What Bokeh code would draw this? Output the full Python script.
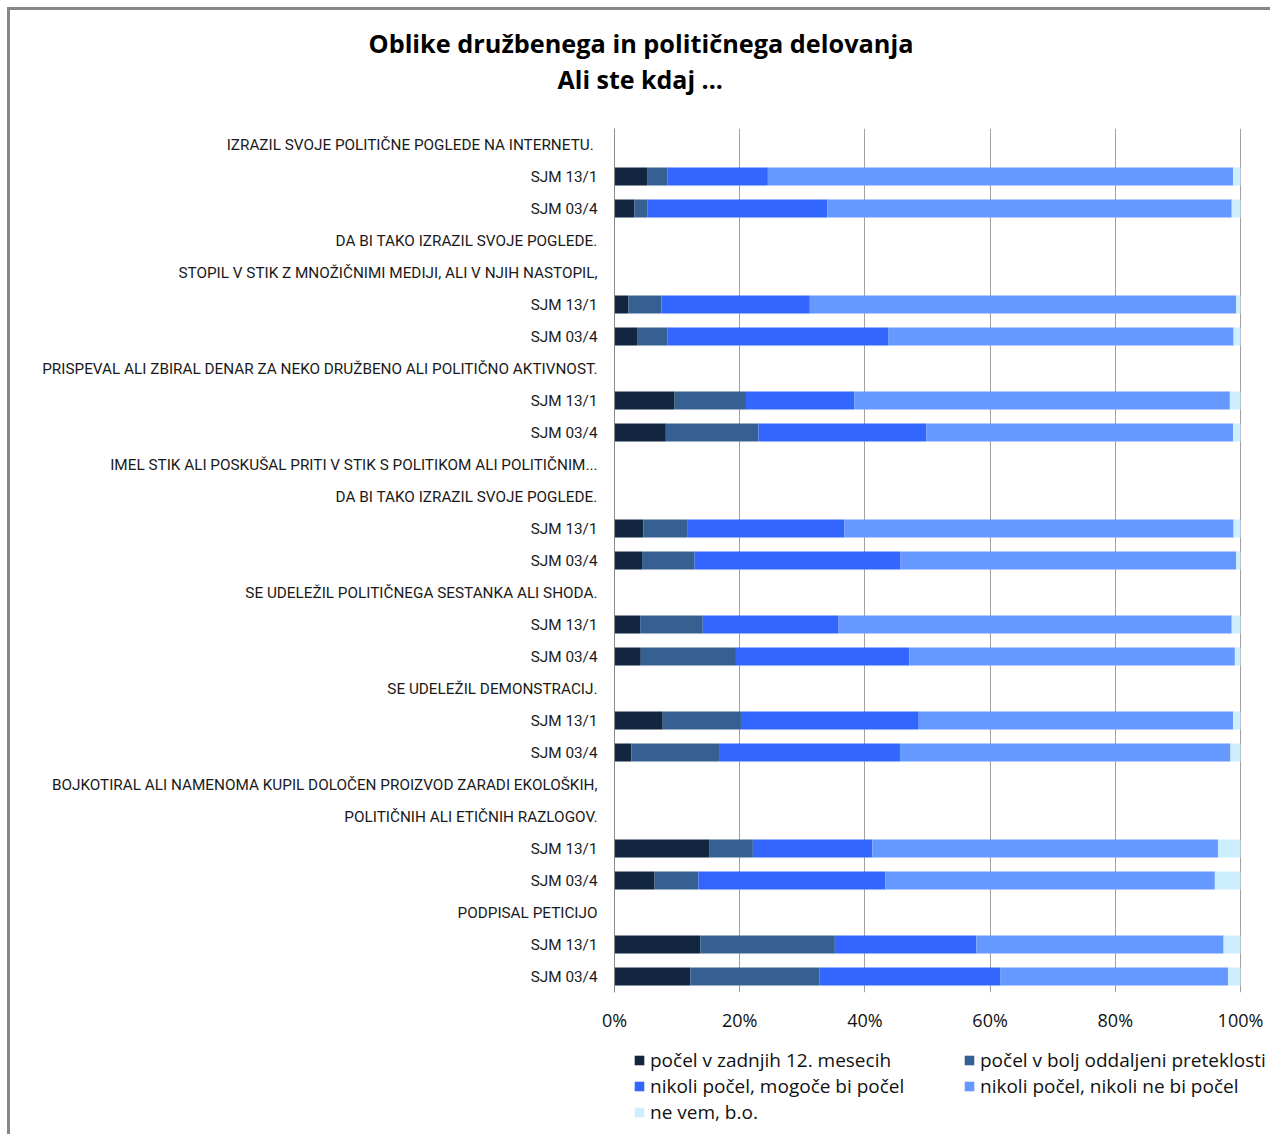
from bokeh.plotting import figure
from bokeh.layouts import column
from bokeh.models import (Range1d, FixedTicker, Legend, LegendItem, Title,
                          ColumnDataSource)
from bokeh.embed import file_html
from bokeh.resources import INLINE

title_lines = ["Oblike družbenega in političnega delovanja", "Ali ste kdaj ..."]

row_labels = [
    "IZRAZIL SVOJE POLITIČNE POGLEDE NA  INTERNETU.",
    "SJM 13/1", "SJM 03/4",
    "DA BI TAKO IZRAZIL SVOJE POGLEDE.",
    "STOPIL V STIK Z MNOŽIČNIMI MEDIJI, ALI V NJIH NASTOPIL,",
    "SJM 13/1", "SJM 03/4",
    "PRISPEVAL ALI ZBIRAL DENAR ZA NEKO DRUŽBENO ALI POLITIČNO AKTIVNOST.",
    "SJM 13/1", "SJM 03/4",
    "IMEL STIK ALI POSKUŠAL PRITI V STIK S POLITIKOM ALI POLITIČNIM...",
    "DA BI TAKO IZRAZIL SVOJE POGLEDE.",
    "SJM 13/1", "SJM 03/4",
    "SE UDELEŽIL POLITIČNEGA SESTANKA ALI SHODA.",
    "SJM 13/1", "SJM 03/4",
    "SE UDELEŽIL DEMONSTRACIJ.",
    "SJM 13/1", "SJM 03/4",
    "BOJKOTIRAL ALI NAMENOMA KUPIL DOLOČEN PROIZVOD ZARADI EKOLOŠKIH,",
    "POLITIČNIH ALI ETIČNIH RAZLOGOV.",
    "SJM 13/1", "SJM 03/4",
    "PODPISAL PETICIJO",
    "SJM 13/1", "SJM 03/4",
]

# rows (index into row_labels) that carry a bar
bar_rows = [1, 2, 5, 6, 8, 9, 12, 13, 15, 16, 18, 19, 22, 23, 25, 26]

series_names = ["počel v zadnjih 12. mesecih",
                "počel v bolj oddaljeni preteklosti",
                "nikoli počel, mogoče bi počel",
                "nikoli počel, nikoli ne bi počel",
                "ne vem, b.o."]

v_recent = [5.2, 3.2, 2.2, 3.6, 9.6, 8.2, 4.6, 4.4, 4.1, 4.2, 7.7, 2.7, 15.2, 6.4, 13.7, 12.1]
v_past = [3.3, 2.1, 5.3, 4.9, 11.4, 14.8, 7.0, 8.4, 10.0, 15.2, 12.5, 14.0, 6.9, 7.0, 21.5, 20.6]
v_maybe = [16.0, 28.7, 23.7, 35.2, 17.3, 26.8, 25.1, 32.9, 21.7, 27.7, 28.4, 28.9, 19.1, 29.9, 22.6, 28.9]
v_never = [74.3, 64.6, 68.1, 55.2, 60.0, 49.0, 62.2, 53.6, 62.8, 52.0, 50.2, 52.8, 55.2, 52.6, 39.5, 36.4]
v_dk = [1.2, 1.4, 0.7, 1.1, 1.7, 1.2, 1.1, 0.7, 1.4, 0.9, 1.2, 1.6, 3.6, 4.1, 2.7, 2.0]

x_ticks = [0, 20, 40, 60, 80, 100]
x_tick_labels = ["0%", "20%", "40%", "60%", "80%", "100%"]

colors = ["#13263f", "#376092", "#3366ff", "#6699ff", "#cceeff"]

n_rows = len(row_labels)
ypos = [n_rows - 1 - r for r in bar_rows]
keys = ["recent", "past", "maybe", "never", "dk"]
src = ColumnDataSource(dict(y=ypos, recent=v_recent, past=v_past,
                            maybe=v_maybe, never=v_never, dk=v_dk))

# layout geometry (pixels)
W = 1263
BORDER_L = 607
FRAME_W = W - BORDER_L          # plot frame runs to the right edge
AXIS_W = 626                    # pixels from 0% to 100%
x_end = 100.0 * FRAME_W / AXIS_W

# ---------------- main chart ----------------
p = figure(width=W, height=1035, output_backend="svg", toolbar_location=None,
           x_range=Range1d(0, x_end), y_range=Range1d(-0.5, n_rows - 0.5),
           min_border_left=BORDER_L, min_border_right=0, min_border_top=121,
           min_border_bottom=50)
p.border_fill_color = None
p.background_fill_color = None
p.outline_line_color = None

p.hbar_stack(keys, y="y", height=0.56, color=colors, line_color=None, source=src)

p.xaxis.ticker = FixedTicker(ticks=x_ticks)
p.xaxis.major_label_overrides = {t: l for t, l in zip(x_ticks, x_tick_labels)}
p.xaxis.axis_line_color = None
p.xaxis.major_tick_line_color = None
p.xaxis.minor_tick_line_color = None
p.xaxis.major_label_text_font = "Open Sans"
p.xaxis.major_label_text_font_size = "18px"
p.xaxis.major_label_text_color = "#111111"
p.xaxis.major_label_standoff = 9

p.yaxis.ticker = FixedTicker(ticks=list(range(n_rows)))
p.yaxis.major_label_overrides = {n_rows - 1 - i: lab for i, lab in enumerate(row_labels)}
p.yaxis.axis_line_color = "#8a8a8a"
p.yaxis.major_tick_line_color = None
p.yaxis.minor_tick_line_color = None
p.yaxis.major_tick_out = 0
p.yaxis.major_tick_in = 0
p.yaxis.major_label_text_font = "Roboto"
p.yaxis.major_label_text_font_size = "15.3px"
p.yaxis.major_label_text_color = "#1a1a1a"
p.yaxis.major_label_standoff = 17

p.xgrid.ticker = FixedTicker(ticks=x_ticks)
p.xgrid.grid_line_color = "#a0a0a0"
p.ygrid.grid_line_color = None

# title lines (first added sits closest to the plot frame)
p.add_layout(Title(text=" ", text_font_size="19px"), "above")
p.add_layout(Title(text=title_lines[1], align="left", offset=-57, standoff=0,
                   text_font="Open Sans", text_font_style="bold",
                   text_font_size="25px", text_color="#000000"), "above")
p.add_layout(Title(text=title_lines[0], align="left", offset=-246, standoff=0,
                   text_font="Open Sans", text_font_style="bold",
                   text_font_size="25.3px", text_color="#000000"), "above")

# ---------------- legend strip ----------------
p2 = figure(width=W, height=92, output_backend="svg", toolbar_location=None,
            x_axis_type=None, y_axis_type=None, x_range=Range1d(0, x_end),
            y_range=Range1d(1000, 1001), min_border_left=BORDER_L,
            min_border_right=0, min_border_top=0, min_border_bottom=0)
p2.border_fill_color = None
p2.background_fill_color = None
p2.outline_line_color = None
p2.xgrid.visible = False
p2.ygrid.visible = False
# same bars, outside this strip's visible range: they only feed the legend swatches
swatches = p2.hbar_stack(keys, y="y", height=0.56, color=colors, line_color=None,
                         source=src)

legend_style = dict(orientation="vertical", glyph_width=12, glyph_height=12,
                    label_standoff=5, label_height=20, spacing=0, padding=0,
                    margin=0, border_line_color=None, background_fill_alpha=0,
                    label_text_font="Open Sans", label_text_font_size="19px",
                    label_text_color="#111111")
left_items = [LegendItem(label=series_names[i], renderers=[swatches[i]]) for i in (0, 2, 4)]
right_items = [LegendItem(label=series_names[i], renderers=[swatches[i]]) for i in (1, 3)]
p2.add_layout(Legend(items=left_items, location=(19, 9), label_width=300, **legend_style))
p2.add_layout(Legend(items=right_items, location=(349, 35), label_width=290, **legend_style))

layout = column(p, p2, spacing=0)
layout.styles = {"margin-left": "7px", "margin-top": "7px",
                 "box-shadow": "inset 3px 3px 0 0 #878787"}

open("out.html", "w").write(file_html(layout, INLINE))
